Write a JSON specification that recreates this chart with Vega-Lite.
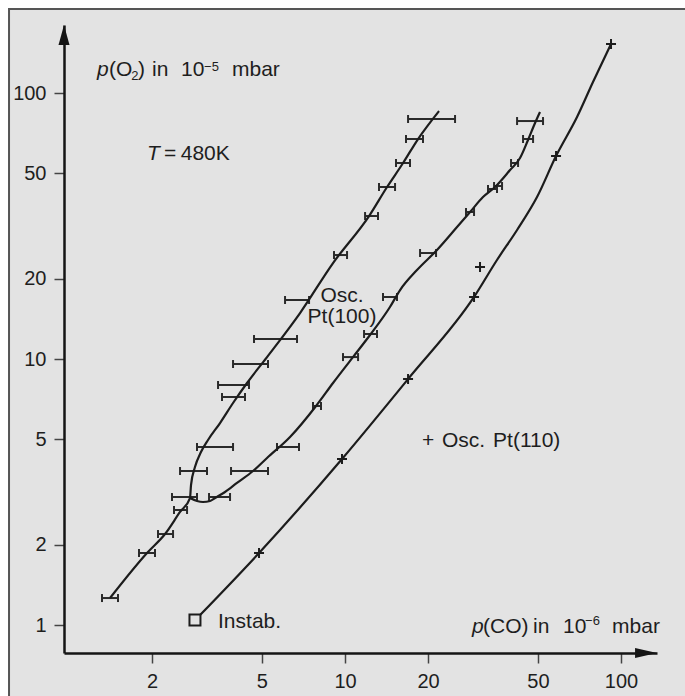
{
  "$schema": "https://vega.github.io/schema/vega-lite/v6.json",
  "width": 593,
  "height": 628,
  "autosize": "none",
  "padding": {"left": 64, "top": 25, "right": 28, "bottom": 43},
  "background": "#ffffff",
  "config": {
    "view": {"stroke": null},
    "axis": {
      "grid": false,
      "domainColor": "#151515",
      "domainWidth": 2.5,
      "tickColor": "#444444",
      "tickWidth": 1.5,
      "tickSize": 10,
      "labelFont": "Liberation Sans",
      "labelFontSize": 20,
      "labelColor": "#1e1e1e",
      "labelPadding": 8,
      "labelOverlap": false
    }
  },
  "datasets": {
    "frame": [{"x": 0.6063, "x2": 10000, "y": 206.9, "y2": 0.01}],
    "bars": [
      {"s": "A", "y": 1.263, "lo": 1.317, "hi": 1.505},
      {"s": "A", "y": 1.865, "lo": 1.793, "hi": 2.049},
      {"s": "A", "y": 2.198, "lo": 2.101, "hi": 2.382},
      {"s": "A", "y": 2.706, "lo": 2.401, "hi": 2.677},
      {"s": "A", "y": 3.028, "lo": 2.361, "hi": 2.909},
      {"s": "A", "y": 3.793, "lo": 2.525, "hi": 3.162},
      {"s": "A", "y": 4.669, "lo": 2.909, "hi": 3.929},
      {"s": "A", "y": 7.197, "lo": 3.584, "hi": 4.342},
      {"s": "A", "y": 7.986, "lo": 3.467, "hi": 4.489},
      {"s": "A", "y": 9.576, "lo": 3.929, "hi": 5.26},
      {"s": "A", "y": 11.89, "lo": 4.681, "hi": 6.701},
      {"s": "A", "y": 16.67, "lo": 6.063, "hi": 7.408},
      {"s": "A", "y": 24.6, "lo": 9.124, "hi": 10.17},
      {"s": "A", "y": 34.48, "lo": 11.82, "hi": 13.17},
      {"s": "A", "y": 44.33, "lo": 13.28, "hi": 15.18},
      {"s": "A", "y": 54.56, "lo": 15.3, "hi": 17.2},
      {"s": "A", "y": 67.16, "lo": 16.63, "hi": 19.17},
      {"s": "A", "y": 79.86, "lo": 16.92, "hi": 25.04},
      {"s": "B", "y": 3.028, "lo": 3.216, "hi": 3.832},
      {"s": "B", "y": 3.793, "lo": 3.864, "hi": 5.26},
      {"s": "B", "y": 4.669, "lo": 5.669, "hi": 6.813},
      {"s": "B", "y": 6.659, "lo": 7.656, "hi": 8.185},
      {"s": "B", "y": 10.17, "lo": 9.835, "hi": 11.15},
      {"s": "B", "y": 12.42, "lo": 11.72, "hi": 13.06},
      {"s": "B", "y": 17.11, "lo": 13.73, "hi": 15.43},
      {"s": "B", "y": 25.03, "lo": 18.7, "hi": 21.37},
      {"s": "B", "y": 35.7, "lo": 27.44, "hi": 29.34},
      {"s": "B", "y": 43.57, "lo": 32.97, "hi": 35.53},
      {"s": "B", "y": 44.71, "lo": 34.67, "hi": 37.06},
      {"s": "B", "y": 54.56, "lo": 39.95, "hi": 42.36},
      {"s": "B", "y": 67.16, "lo": 44.16, "hi": 48.01},
      {"s": "B", "y": 78.47, "lo": 42.01, "hi": 52.17}
    ],
    "curves": [
      {"c": "A", "i": 0, "x": 1.408, "y": 1.263},
      {"c": "A", "i": 1, "x": 1.917, "y": 1.865},
      {"c": "A", "i": 2, "x": 2.228, "y": 2.198},
      {"c": "A", "i": 3, "x": 2.525, "y": 2.66},
      {"c": "A", "i": 4, "x": 2.744, "y": 3.002},
      {"c": "A", "i": 5, "x": 2.767, "y": 3.36},
      {"c": "A", "i": 6, "x": 2.86, "y": 3.926},
      {"c": "A", "i": 7, "x": 3.007, "y": 4.471},
      {"c": "A", "i": 8, "x": 3.189, "y": 4.962},
      {"c": "A", "i": 9, "x": 3.525, "y": 5.746},
      {"c": "A", "i": 10, "x": 3.929, "y": 6.833},
      {"c": "A", "i": 11, "x": 4.415, "y": 8.125},
      {"c": "A", "i": 12, "x": 5.217, "y": 10.17},
      {"c": "A", "i": 13, "x": 6.871, "y": 14.89},
      {"c": "A", "i": 14, "x": 9.048, "y": 22.95},
      {"c": "A", "i": 15, "x": 12.22, "y": 34.48},
      {"c": "A", "i": 16, "x": 14.2, "y": 44.33},
      {"c": "A", "i": 17, "x": 16.23, "y": 54.56},
      {"c": "A", "i": 18, "x": 18.39, "y": 67.16},
      {"c": "A", "i": 19, "x": 21.9, "y": 85.55},
      {"c": "B", "i": 0, "x": 2.744, "y": 3.002},
      {"c": "B", "i": 1, "x": 2.909, "y": 2.925},
      {"c": "B", "i": 2, "x": 3.058, "y": 2.9},
      {"c": "B", "i": 3, "x": 3.243, "y": 2.925},
      {"c": "B", "i": 4, "x": 3.381, "y": 3.002},
      {"c": "B", "i": 5, "x": 3.675, "y": 3.162},
      {"c": "B", "i": 6, "x": 4.061, "y": 3.42},
      {"c": "B", "i": 7, "x": 4.642, "y": 3.793},
      {"c": "B", "i": 8, "x": 5.217, "y": 4.245},
      {"c": "B", "i": 9, "x": 6.321, "y": 5.091},
      {"c": "B", "i": 10, "x": 7.853, "y": 6.659},
      {"c": "B", "i": 11, "x": 9.048, "y": 8.125},
      {"c": "B", "i": 12, "x": 10.69, "y": 10.17},
      {"c": "B", "i": 13, "x": 12.32, "y": 12.31},
      {"c": "B", "i": 14, "x": 14.55, "y": 15.69},
      {"c": "B", "i": 15, "x": 15.83, "y": 18.17},
      {"c": "B", "i": 16, "x": 18.23, "y": 21.61},
      {"c": "B", "i": 17, "x": 21.54, "y": 25.7},
      {"c": "B", "i": 18, "x": 25.46, "y": 31.35},
      {"c": "B", "i": 19, "x": 28.38, "y": 35.7},
      {"c": "B", "i": 20, "x": 31.62, "y": 40.64},
      {"c": "B", "i": 21, "x": 34.96, "y": 44.33},
      {"c": "B", "i": 22, "x": 39.62, "y": 51.34},
      {"c": "B", "i": 23, "x": 43.06, "y": 56.95},
      {"c": "B", "i": 24, "x": 46.03, "y": 66.58},
      {"c": "B", "i": 25, "x": 48.8, "y": 77.13},
      {"c": "B", "i": 26, "x": 50.87, "y": 84.83},
      {"c": "C", "i": 0, "x": 2.983, "y": 1.09},
      {"c": "C", "i": 1, "x": 4.88, "y": 1.865},
      {"c": "C", "i": 2, "x": 9.752, "y": 4.209},
      {"c": "C", "i": 3, "x": 16.92, "y": 8.41},
      {"c": "C", "i": 4, "x": 29.34, "y": 17.11},
      {"c": "C", "i": 5, "x": 35.53, "y": 23.56},
      {"c": "C", "i": 6, "x": 42.01, "y": 30.55},
      {"c": "C", "i": 7, "x": 49.62, "y": 40.64},
      {"c": "C", "i": 8, "x": 58.15, "y": 57.95},
      {"c": "C", "i": 9, "x": 69.28, "y": 81.25},
      {"c": "C", "i": 10, "x": 79.15, "y": 110.0},
      {"c": "C", "i": 11, "x": 91.99, "y": 152.9}
    ],
    "plus": [
      {"x": 4.88, "y": 1.865},
      {"x": 9.752, "y": 4.209},
      {"x": 16.92, "y": 8.41},
      {"x": 29.34, "y": 17.11},
      {"x": 30.84, "y": 22.17},
      {"x": 58.15, "y": 57.95},
      {"x": 91.99, "y": 152.9}
    ],
    "instab": [{"x": 2.86, "y": 1.044}],
    "arrowUp": [{"x": 0.9591, "y": 165.2}],
    "arrowRight": [{"x": 123.2, "y": 0.7848}],
    "textNormal": [
      {"x": 1.396, "y": 115.8, "t": "(O"},
      {"x": 1.78, "y": 115.8, "t": ")"},
      {"x": 1.999, "y": 115.8, "t": "in"},
      {"x": 2.546, "y": 115.8, "t": "10"},
      {"x": 3.896, "y": 115.8, "t": "mbar"},
      {"x": 2.208, "y": 55.99, "t": "="},
      {"x": 2.54, "y": 55.99, "t": "480K"},
      {"x": 3.467, "y": 0.974, "t": "Instab."},
      {"x": 19.01, "y": 4.669, "t": "+"},
      {"x": 22.46, "y": 4.669, "t": "Osc."},
      {"x": 34.38, "y": 4.669, "t": "Pt(110)"},
      {"x": 31.62, "y": 0.933, "t": "(CO)"},
      {"x": 48.01, "y": 0.933, "t": "in"},
      {"x": 61.64, "y": 0.933, "t": "10"},
      {"x": 92.77, "y": 0.933, "t": "mbar"}
    ],
    "textSmall": [
      {"x": 1.68, "y": 111.9, "t": "2"},
      {"x": 3.085, "y": 120.9, "t": "−5"},
      {"x": 74.07, "y": 1.0, "t": "−6"}
    ],
    "textItalic": [
      {"x": 1.263, "y": 115.8, "t": "p"},
      {"x": 1.917, "y": 55.99, "t": "T"},
      {"x": 28.85, "y": 0.933, "t": "p"}
    ],
    "textCenter": [
      {"x": 9.752, "y": 16.38, "t": "Osc."},
      {"x": 9.752, "y": 13.6, "t": "Pt(100)"}
    ]
  },
  "layer": [
    {
      "data": {"name": "frame"},
      "mark": {"type": "rect", "fill": "#e3e3e3", "stroke": "#555555", "strokeWidth": 2},
      "encoding": {
        "x": {"field": "x", "type": "quantitative", "scale": {"type": "log", "domain": [0.9591, 135.0], "nice": false}, "axis": {"values": [2, 5, 10, 20, 50, 100], "format": "d", "title": null, "zindex": 2}},
        "x2": {"field": "x2"},
        "y": {"field": "y", "type": "quantitative", "scale": {"type": "log", "domain": [0.7848, 180.2], "nice": false}, "axis": {"values": [1, 2, 5, 10, 20, 50, 100], "format": "d", "title": null, "zindex": 2}},
        "y2": {"field": "y2"}
      }
    },
    {
      "data": {"name": "bars"},
      "mark": {"type": "rule", "color": "#2a2a2a", "strokeWidth": 2},
      "encoding": {
        "x": {"field": "lo", "type": "quantitative", "scale": {"type": "log", "domain": [0.9591, 135.0], "nice": false}},
        "x2": {"field": "hi"},
        "y": {"field": "y", "type": "quantitative", "scale": {"type": "log", "domain": [0.7848, 180.2], "nice": false}}
      }
    },
    {
      "data": {"name": "bars"},
      "transform": [{"fold": ["lo", "hi"], "as": ["end", "xv"]}],
      "mark": {"type": "point", "shape": "M0,-1L0,1", "size": 64, "filled": false, "stroke": "#2a2a2a", "strokeWidth": 2, "opacity": 1},
      "encoding": {
        "x": {"field": "xv", "type": "quantitative", "scale": {"type": "log", "domain": [0.9591, 135.0], "nice": false}},
        "y": {"field": "y", "type": "quantitative", "scale": {"type": "log", "domain": [0.7848, 180.2], "nice": false}}
      }
    },
    {
      "data": {"name": "curves"},
      "mark": {"type": "line", "color": "#1c1c1c", "strokeWidth": 2.2, "interpolate": "monotone"},
      "encoding": {
        "x": {"field": "x", "type": "quantitative", "scale": {"type": "log", "domain": [0.9591, 135.0], "nice": false}},
        "y": {"field": "y", "type": "quantitative", "scale": {"type": "log", "domain": [0.7848, 180.2], "nice": false}},
        "detail": {"field": "c"},
        "order": {"field": "i", "type": "quantitative"}
      }
    },
    {
      "data": {"name": "plus"},
      "mark": {"type": "point", "shape": "M-1,0L1,0M0,-1L0,1", "size": 100, "filled": false, "stroke": "#1c1c1c", "strokeWidth": 2, "opacity": 1},
      "encoding": {
        "x": {"field": "x", "type": "quantitative", "scale": {"type": "log", "domain": [0.9591, 135.0], "nice": false}},
        "y": {"field": "y", "type": "quantitative", "scale": {"type": "log", "domain": [0.7848, 180.2], "nice": false}}
      }
    },
    {
      "data": {"name": "instab"},
      "mark": {"type": "point", "shape": "square", "size": 121, "filled": false, "fill": "#e3e3e3", "fillOpacity": 1, "stroke": "#1c1c1c", "strokeWidth": 2, "opacity": 1},
      "encoding": {
        "x": {"field": "x", "type": "quantitative", "scale": {"type": "log", "domain": [0.9591, 135.0], "nice": false}},
        "y": {"field": "y", "type": "quantitative", "scale": {"type": "log", "domain": [0.7848, 180.2], "nice": false}}
      }
    },
    {
      "data": {"name": "arrowUp"},
      "mark": {"type": "point", "shape": "M-0.55,1L0,-1L0.55,1Z", "size": 400, "filled": true, "color": "#151515", "opacity": 1},
      "encoding": {
        "x": {"field": "x", "type": "quantitative", "scale": {"type": "log", "domain": [0.9591, 135.0], "nice": false}},
        "y": {"field": "y", "type": "quantitative", "scale": {"type": "log", "domain": [0.7848, 180.2], "nice": false}}
      }
    },
    {
      "data": {"name": "arrowRight"},
      "mark": {"type": "point", "shape": "M-1,-0.45L1,0L-1,0.45Z", "size": 484, "filled": true, "color": "#151515", "opacity": 1},
      "encoding": {
        "x": {"field": "x", "type": "quantitative", "scale": {"type": "log", "domain": [0.9591, 135.0], "nice": false}},
        "y": {"field": "y", "type": "quantitative", "scale": {"type": "log", "domain": [0.7848, 180.2], "nice": false}}
      }
    },
    {
      "data": {"name": "textNormal"},
      "mark": {"type": "text", "align": "left", "baseline": "alphabetic", "font": "Liberation Sans", "fontSize": 21, "color": "#1e1e1e"},
      "encoding": {
        "x": {"field": "x", "type": "quantitative", "scale": {"type": "log", "domain": [0.9591, 135.0], "nice": false}},
        "y": {"field": "y", "type": "quantitative", "scale": {"type": "log", "domain": [0.7848, 180.2], "nice": false}},
        "text": {"field": "t"}
      }
    },
    {
      "data": {"name": "textSmall"},
      "mark": {"type": "text", "align": "left", "baseline": "alphabetic", "font": "Liberation Sans", "fontSize": 13, "color": "#1e1e1e"},
      "encoding": {
        "x": {"field": "x", "type": "quantitative", "scale": {"type": "log", "domain": [0.9591, 135.0], "nice": false}},
        "y": {"field": "y", "type": "quantitative", "scale": {"type": "log", "domain": [0.7848, 180.2], "nice": false}},
        "text": {"field": "t"}
      }
    },
    {
      "data": {"name": "textItalic"},
      "mark": {"type": "text", "align": "left", "baseline": "alphabetic", "font": "Liberation Sans", "fontStyle": "italic", "fontSize": 21, "color": "#1e1e1e"},
      "encoding": {
        "x": {"field": "x", "type": "quantitative", "scale": {"type": "log", "domain": [0.9591, 135.0], "nice": false}},
        "y": {"field": "y", "type": "quantitative", "scale": {"type": "log", "domain": [0.7848, 180.2], "nice": false}},
        "text": {"field": "t"}
      }
    },
    {
      "data": {"name": "textCenter"},
      "mark": {"type": "text", "align": "center", "baseline": "alphabetic", "font": "Liberation Sans", "fontSize": 21, "color": "#1e1e1e"},
      "encoding": {
        "x": {"field": "x", "type": "quantitative", "scale": {"type": "log", "domain": [0.9591, 135.0], "nice": false}},
        "y": {"field": "y", "type": "quantitative", "scale": {"type": "log", "domain": [0.7848, 180.2], "nice": false}},
        "text": {"field": "t"}
      }
    }
  ]
}
